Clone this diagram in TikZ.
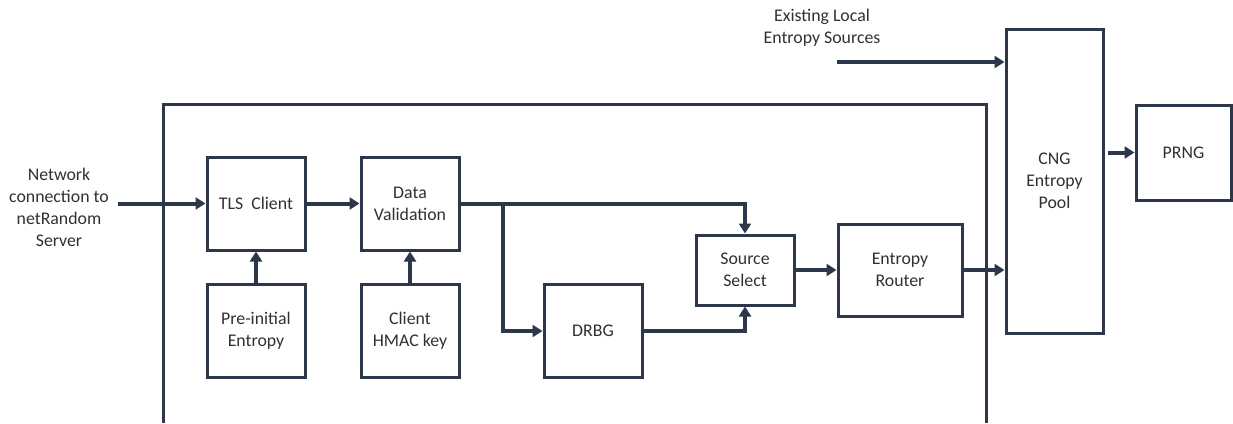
\documentclass[tikz,border=0pt]{standalone}
\usepackage{fontspec}
\setmainfont{Carlito}
\usetikzlibrary{arrows.meta,positioning}

\definecolor{navy}{RGB}{44,56,74}
\definecolor{txt}{RGB}{48,48,48}

\begin{document}
\begin{tikzpicture}[x=1pt,y=1pt,on grid,
    font=\fontsize{17.8}{22}\selectfont,text=txt,
    box/.style={draw=navy,line width=3pt,minimum width=98pt,minimum height=93pt,align=center},
    lbl/.style={align=center},
    flow/.style={draw=navy,line width=4pt,-{Triangle[length=10pt,width=12pt]}}]
   \useasboundingbox (0,0) rectangle (1233,-423);
   % outer frame, open at the bottom
   \draw[navy,line width=3pt] (163,-423) |- (986,-104) -- (986,-423);
   \node[box] (tls)  at (256,-203.5) {TLS\ \ Client};
   \node[box] (pre)  [below=127.5pt of tls] {Pre-initial\\Entropy};
   \node[box] (dv)   [right=154pt of tls] {Data\\Validation};
   \node[box] (hmac) [below=127.5pt of dv] {Client\\HMAC key};
   \node[box] (drbg) [right=183pt of hmac] {DRBG};
   \node[box,minimum height=70pt] (sel) [above right=61pt and 152pt of drbg] {Source\\Select};
   \node[box,minimum width=124pt,minimum height=92pt] (er) [right=155pt of sel] {Entropy\\Router};
   \node[box,minimum width=97pt,minimum height=304pt] (cng) [above right=89pt and 154.5pt of er] {CNG\\Entropy\\Pool};
   \node[box,minimum width=95pt,minimum height=95pt] (prng) [above right=28.5pt and 129pt of cng] {PRNG};
   \coordinate (net) at (118,-203.5);
   \coordinate (src) at (837,-62);
   \coordinate (br)  at (503,-203.5);
   \coordinate (out) at (1108,-152.5);
   \node[lbl] (netlbl) at (59,-207) {Network\\connection to\\netRandom\\Server};
   \node[lbl] (srclbl) at (822,-28) {Existing Local\\Entropy Sources};
    \path[every edge/.style=flow]
    (net) edge (tls)
    (pre) edge (tls)
    (hmac) edge (dv)
    (tls) edge (dv)
    (sel) edge (er)
    (er.east) edge (er.east -| cng.west)
    (src) edge (src -| cng.west)
    (out) edge (prng.west);
    \draw[flow] (dv.east) -| (sel.north);
    \draw[flow] (br) |- (drbg.west);
    \draw[flow] (drbg.east) -| (sel.south);
\end{tikzpicture}
\end{document}
